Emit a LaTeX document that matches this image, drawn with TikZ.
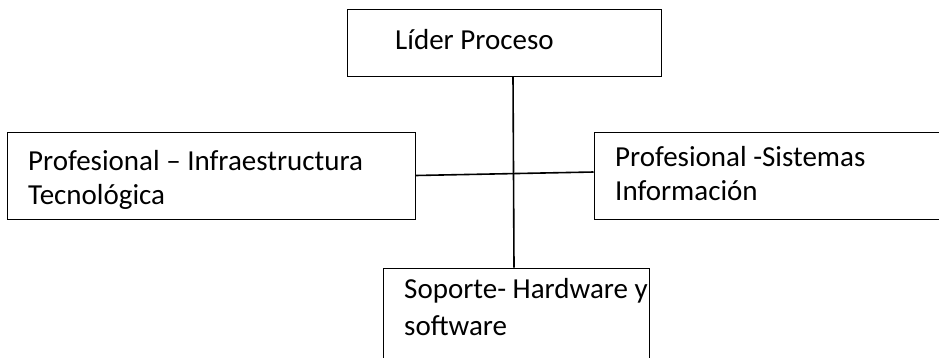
\documentclass[tikz,border=0pt]{standalone}
\usepackage{fontspec}
\setmainfont{Carlito}
\begin{document}
\begin{tikzpicture}[x=1pt,y=-1pt,
  box/.style={draw=black,line width=1pt,rectangle,inner sep=0pt},
  lbl/.style={anchor=base west,inner sep=0pt,font=\fontsize{29}{34}\selectfont},
  conn/.style={line width=1.6pt}]
\useasboundingbox (0,0) rectangle (939,357);
\begin{scope}
\clip (0,0) rectangle (939,357);
\node[box,minimum width=314pt,minimum height=67pt] (top) at (504,42.5) {};
\node[box,minimum width=408pt,minimum height=87pt] (left) at (211,175.5) {};
\node[box,minimum width=366pt,minimum height=87pt] (right) at (777,175.5) {};
\node[box,minimum width=266pt,minimum height=112pt] (bot) at (516,324) {};
\node[lbl] (t1) at (395,49) {Líder Proceso};
\node[lbl] (t2a) at (28,170) {Profesional – Infraestructura};
\node[lbl] (t2b) at (28,204) {Tecnológica};
\node[lbl] (t3a) at (615,166) {Profesional -Sistemas};
\node[lbl] (t3b) at (615,200) {Información};
\node[lbl] (t4a) at (404,298) {Soporte- Hardware y};
\node[lbl] (t4b) at (404,335) {software};
\draw[conn] ([xshift=9pt]top.south) -- ([xshift=-2pt]bot.north);
\draw[conn] (left.east) -- ([yshift=3.5pt]right.west);
\end{scope}
\end{tikzpicture}
\end{document}
